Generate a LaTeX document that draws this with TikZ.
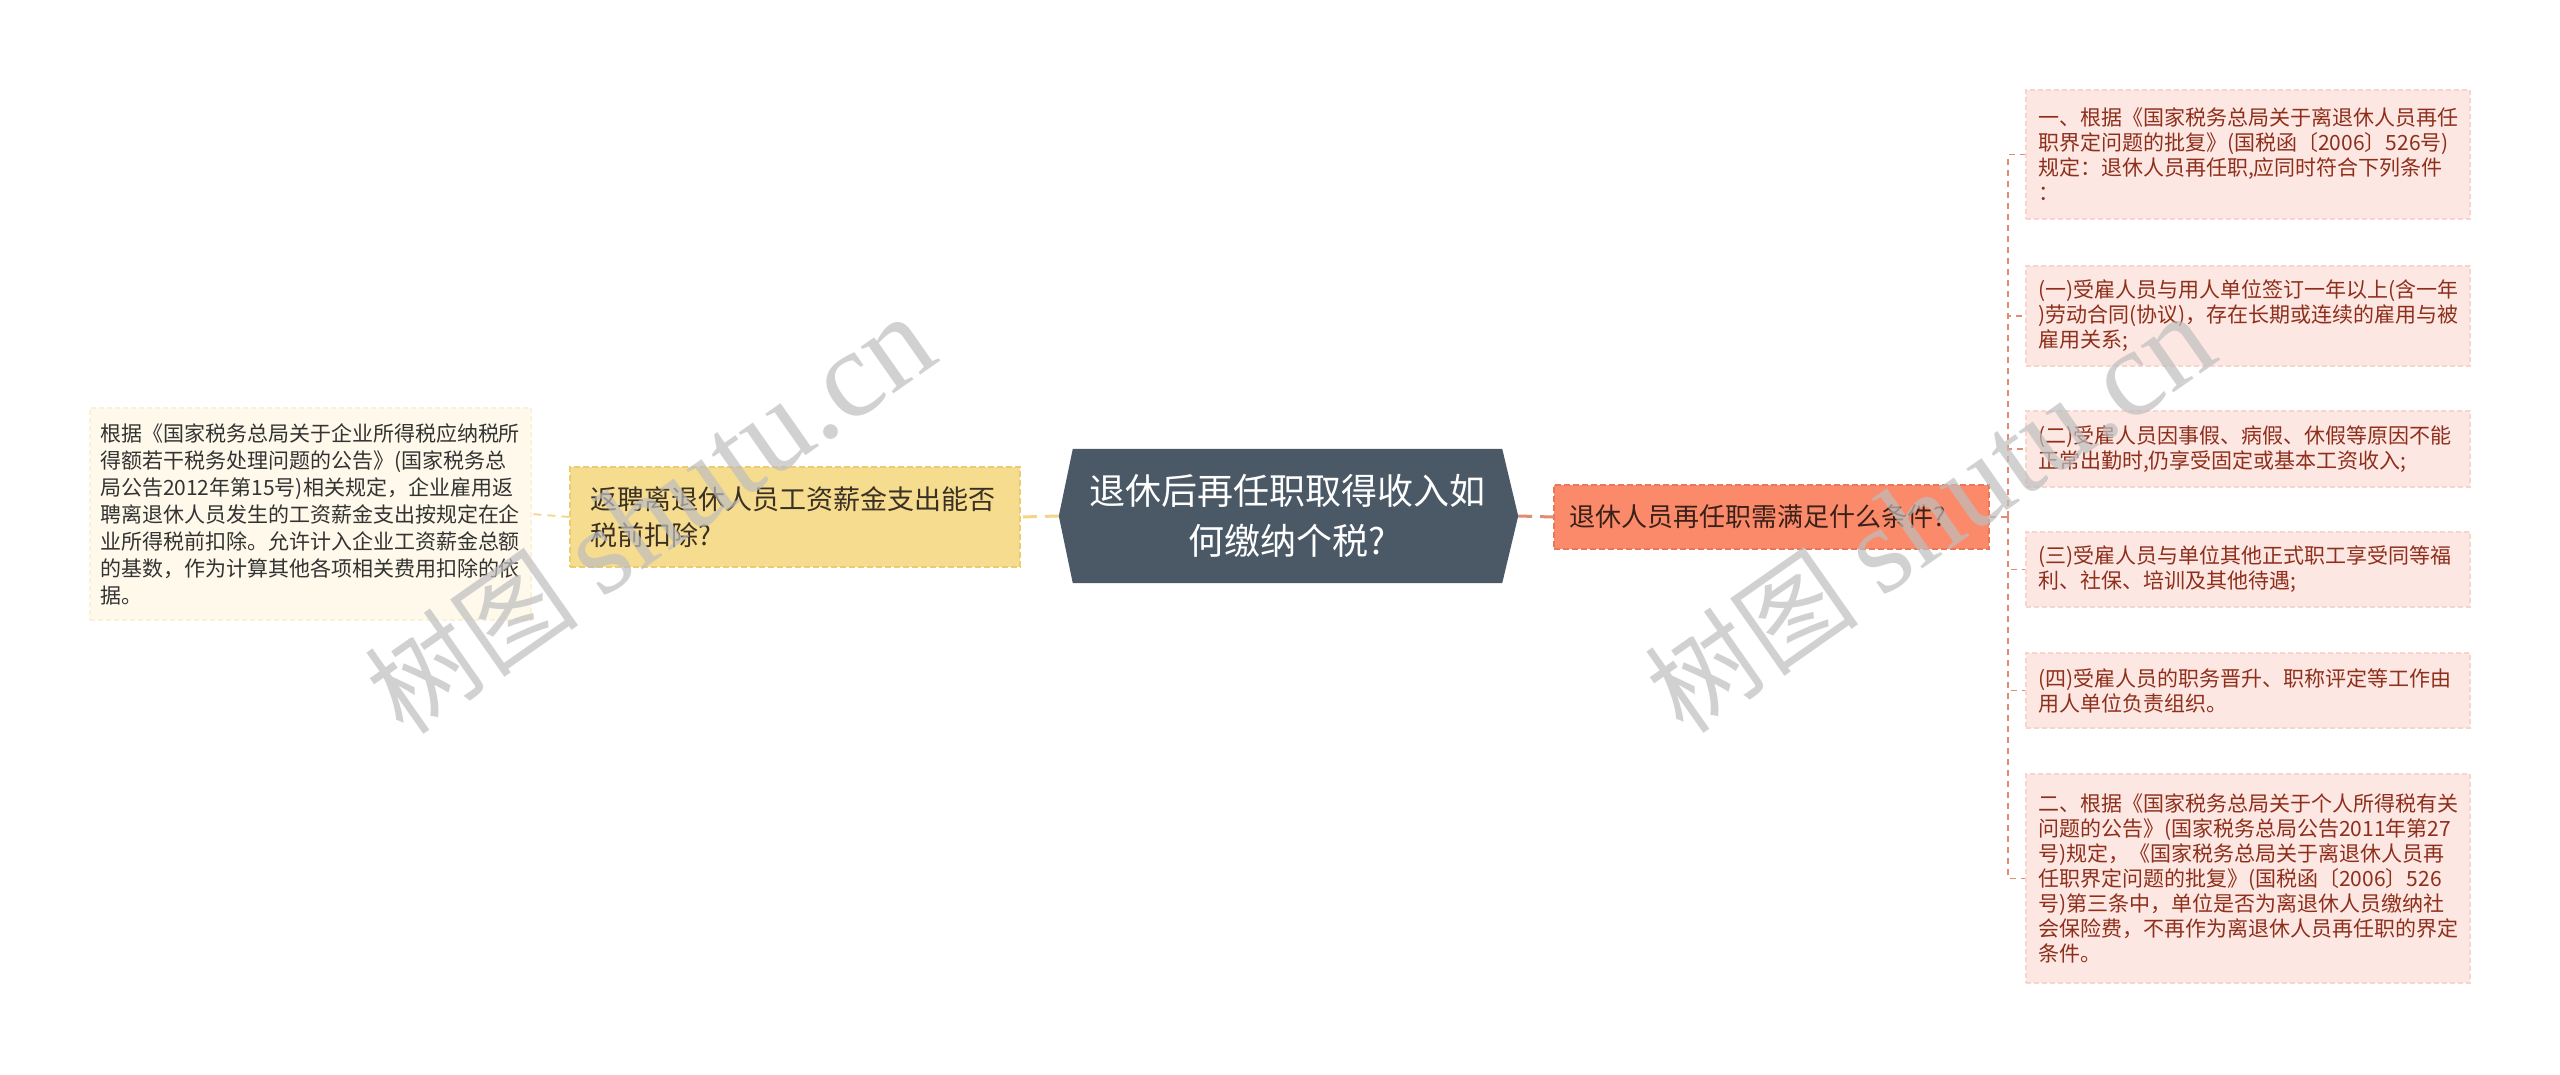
\documentclass[tikz,border=0pt]{standalone}
\usepackage{fontspec}
\setmainfont{Noto Sans CJK SC}
\newfontfamily\wmserif{Liberation Serif}
\usetikzlibrary{backgrounds}
\definecolor{cfill}{HTML}{4B5966}
\definecolor{ofill}{HTML}{FA8A6A}
\definecolor{oline}{HTML}{E9785B}
\definecolor{otext}{HTML}{3A2118}
\definecolor{yfill}{HTML}{F6DC8E}
\definecolor{yline}{HTML}{EDCB70}
\definecolor{ytext}{HTML}{3B3024}
\definecolor{lfill}{HTML}{FEF9EA}
\definecolor{lline}{HTML}{FBF1D8}
\definecolor{ltext}{HTML}{333333}
\definecolor{rfill}{HTML}{FDE7E2}
\definecolor{rline}{HTML}{F7D5CD}
\definecolor{rtext}{HTML}{8E2F1C}
\definecolor{salmon}{HTML}{E38C74}
\definecolor{ylink}{HTML}{F2D58A}
\definecolor{wm}{HTML}{BEBEBE}
\begin{document}
\begin{tikzpicture}[x=1pt,y=-1pt,
  rleaf/.style={fill=rfill, draw=rline, line width=1.2pt, dash pattern=on 5pt off 3pt,
    text=rtext, text width=420pt, align=left, inner xsep=12pt, inner ysep=0pt,
    font=\fontsize{21pt}{25pt}\selectfont},
  lleaf/.style={fill=lfill, draw=lline, line width=1.2pt, dash pattern=on 5pt off 3pt,
    text=ltext, text width=421pt, align=left, inner xsep=10pt, inner ysep=0pt,
    font=\fontsize{21pt}{27pt}\selectfont},
  ybox/.style={fill=yfill, draw=yline, line width=1.5pt, dash pattern=on 6pt off 3pt,
    text=ytext, text width=410pt, align=left, inner xsep=20pt, inner ysep=0pt,
    font=\fontsize{27pt}{36pt}\selectfont},
  obox/.style={fill=ofill, draw=oline, line width=1.5pt, dash pattern=on 6pt off 3pt,
    text=otext, text width=405pt, align=left, inner xsep=15pt, inner ysep=0pt,
    font=\fontsize{26pt}{32pt}\selectfont},
  cbox/.style={text=white, align=center, inner sep=0pt,
    font=\fontsize{36pt}{50pt}\selectfont},
  thinlink/.style={draw=salmon, line width=1.8pt, dash pattern=on 6pt off 5pt},
  thicklink/.style={draw=salmon, line width=3pt, dash pattern=on 14pt off 8pt},
  ythin/.style={draw=ylink, line width=1.8pt, dash pattern=on 8pt off 6pt},
  ythick/.style={draw=ylink, line width=3pt, dash pattern=on 14pt off 8pt},
  wmark/.style={text=wm, opacity=0.7, rotate=35, inner sep=0pt}
]
\useasboundingbox (0,0) rectangle (2560,1074);

% central node
\node[cbox, minimum width=429pt, minimum height=134pt] (c) at (1287.5,516)
  {退休后再任职取得收入如\\何缴纳个税?};
\coordinate (cL) at ([xshift=-14pt]c.west);
\coordinate (cR) at ([xshift=16pt]c.east);
\begin{pgfonlayer}{background}
\fill[white] (0,0) rectangle (2560,1074);
\fill[cfill] (c.north west) -- (cL) -- (c.south west) -- (c.south east) -- (cR) -- (c.north east) -- cycle;
\end{pgfonlayer}

% left side
\node[ybox, minimum height=100pt] (y) at (795,517)
  {返聘离退休人员工资薪金支出能否\\税前扣除?};
\node[lleaf, minimum height=212pt] (l) at (310.5,514)
  {根据《国家税务总局关于企业所得税应纳税所\\得额若干税务处理问题的公告》(国家税务总\\局公告2012年第15号)相关规定，企业雇用返\\聘离退休人员发生的工资薪金支出按规定在企\\业所得税前扣除。允许计入企业工资薪金总额\\的基数，作为计算其他各项相关费用扣除的依\\据。};

% right side
\node[obox, minimum height=64pt] (o) at (1771.5,517)
  {退休人员再任职需满足什么条件?};
\node[rleaf, minimum height=129pt] (r1) at (2248,154.5)
  {一、根据《国家税务总局关于离退休人员再任\\职界定问题的批复》(国税函〔2006〕526号)\\规定：退休人员再任职,应同时符合下列条件\\：};
\node[rleaf, minimum height=100pt] (r2) at (2248,316)
  {(一)受雇人员与用人单位签订一年以上(含一年\\)劳动合同(协议)，存在长期或连续的雇用与被\\雇用关系;};
\node[rleaf, minimum height=76pt] (r3) at (2248,449)
  {(二)受雇人员因事假、病假、休假等原因不能\\正常出勤时,仍享受固定或基本工资收入;};
\node[rleaf, minimum height=75pt] (r4) at (2248,569.5)
  {(三)受雇人员与单位其他正式职工享受同等福\\利、社保、培训及其他待遇;};
\node[rleaf, minimum height=75pt] (r5) at (2248,690.5)
  {(四)受雇人员的职务晋升、职称评定等工作由\\用人单位负责组织。};
\node[rleaf, minimum height=209pt] (r6) at (2248,878.5)
  {二、根据《国家税务总局关于个人所得税有关\\问题的公告》(国家税务总局公告2011年第27\\号)规定，《国家税务总局关于离退休人员再\\任职界定问题的批复》(国税函〔2006〕526\\号)第三条中，单位是否为离退休人员缴纳社\\会保险费，不再作为离退休人员再任职的界定\\条件。};

% connectors
\draw[ythick] (cL) -- (y.east);
\draw[ythin] (y.west) -- (l.east);
\draw[thicklink] (cR) -- (o.west);
\coordinate (bus) at (2008,517);
\draw[thinlink] (o.east) -- (bus);
\foreach \r in {r1,r2,r3,r4,r5,r6}{
  \draw[thinlink] (bus) |- (\r.west);
}

% watermarks
\node[wmark] (wm1) at (650,515) {\fontsize{108pt}{108pt}\selectfont 树图 {\wmserif\fontsize{124pt}{124pt}\selectfont shutu.cn}};
\node[wmark] (wm2) at (1930,514) {\fontsize{108pt}{108pt}\selectfont 树图 {\wmserif\fontsize{124pt}{124pt}\selectfont shutu.cn}};
\end{tikzpicture}
\end{document}
